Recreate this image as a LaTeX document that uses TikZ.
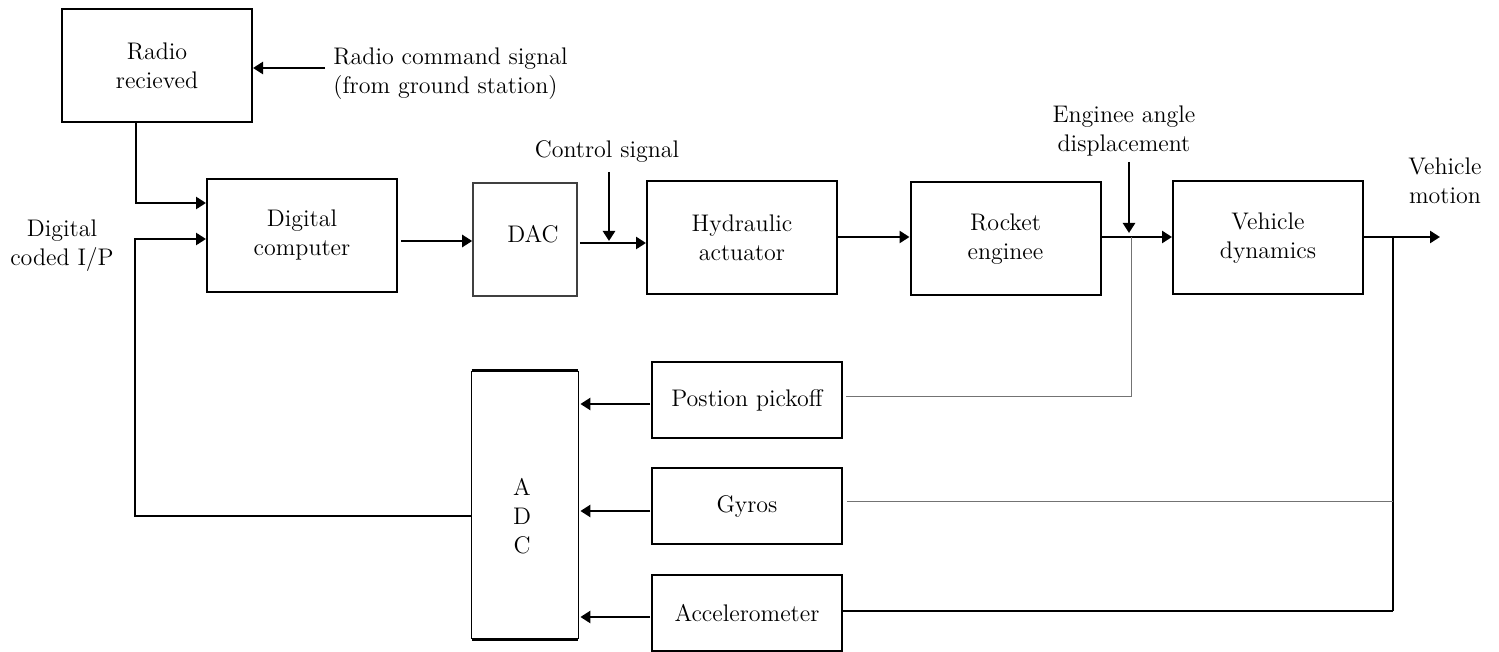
\documentclass[tikz,border=0pt]{standalone}
\usetikzlibrary{arrows.meta,calc}
\begin{document}
\begin{tikzpicture}[x=0.5pt,y=-0.5pt,
  font=\fontsize{12pt}{14.5pt}\selectfont,
  box/.style={draw,line width=1pt,inner sep=0pt,align=center,
    minimum width=95pt,minimum height=56.5pt},
  sensor/.style={box,minimum height=38pt},
  sig/.style={line width=1.4pt,-{Triangle[length=5pt,width=6pt]}},
  tap/.style={line width=0.5pt,draw=black!55},
  lbl/.style={align=center,inner sep=0pt}]
\useasboundingbox (0,0) rectangle (1499,652);

% forward path blocks
\node[box] (radio) at (157,65.5) {Radio\\recieved};
\node[box] (comp) at (302,235.5) {Digital\\computer};
\node[box,minimum width=52pt,line width=0.8pt,draw=black!75] (dac) at (525,239.5) {};
\node[lbl] at (533,234) {DAC};
\node[box] (hyd) at (742,237.5) {Hydraulic\\actuator};
\node[box] (rocket) at (1005.5,239) {Rocket\\enginee};
\node[box] (veh) at (1268,238) {Vehicle\\dynamics};

% feedback blocks
\node[inner sep=0pt,minimum width=53pt,minimum height=134pt] (adc) at (525,505) {};
\draw[line width=0.6pt] (adc.north west) -- (adc.south west)
                        (adc.north east) -- (adc.south east);
\draw[line width=1.6pt] (adc.north west) -- (adc.north east)
                        (adc.south west) -- (adc.south east);
\node[lbl] at (522,516) {A\\D\\C};
\node[sensor] (pos) at (747,400) {Postion pickoff};
\node[sensor] (gyro) at (747,506) {Gyros};
\node[sensor] (acc) at (747,613) {Accelerometer};

% external labels
\node[lbl,align=left,anchor=west] (rcs) at (333,74) {Radio command signal\\(from ground station)};
\node[lbl] (dci) at (62,246) {Digital\\coded I/P};
\node[lbl] (cst) at (607,152) {Control signal};
\node[lbl] (ead) at (1124,131) {Enginee angle\\displacement};
\node[lbl] (vm) at (1445,181) {Vehicle\\motion};

% junction and end points
\coordinate (rc) at (325,68);
\coordinate (j1) at (136,203);
\coordinate (fb) at (135,516);
\coordinate (ci) at (135,239);
\coordinate (cs) at (609,172);
\coordinate (ea) at (1129,162);
\coordinate (b1) at (1131,237);
\coordinate (b2) at (1393,237);
\coordinate (out) at (1440,237);

% forward connectors
\draw[sig] (rc) -- (radio.east |- rc);
\draw[sig] (radio.south -| j1) -- (j1) -- (comp.west |- j1);
\draw[sig] (adc.west |- fb) -- (fb) -- (ci) -- (comp.west |- ci);
\draw[sig] ([xshift=1.5pt]comp.east |- 0,241) -- (dac.west |- 0,241);
\draw[sig] ([xshift=1pt]dac.east |- 0,243) -- (hyd.west |- 0,243);
\draw[sig] (cs) -- (cs |- 0,241);
\draw[sig] (hyd.east |- 0,237) -- (rocket.west |- 0,237);
\draw[sig] (rocket.east |- b1) -- (veh.west |- b1);
\draw[sig] (ea) -- (ea |- 0,233);
\draw[sig] (veh.east |- out) -- (out);

% feedback connectors
\draw[tap] (b1) -- (b1 |- 0,396) -- ([xshift=1.5pt]pos.east |- 0,396);
\draw[line width=0.7pt] (b2) -- (b2 |- 0,611);
\draw[tap] ([xshift=2pt]gyro.east |- 0,501) -- (b2 |- 0,501);
\draw[line width=1pt] (acc.east |- 0,611) -- (b2 |- 0,611);
\draw[sig] ($(pos.west)+(-1,4)$) -- ([xshift=1pt]adc.east |- 0,404);
\draw[sig] ($(gyro.west)+(-1,5)$) -- ([xshift=1pt]adc.east |- 0,511);
\draw[sig] ($(acc.west)+(-1,4)$) -- ([xshift=1pt]adc.east |- 0,617);
\end{tikzpicture}
\end{document}
